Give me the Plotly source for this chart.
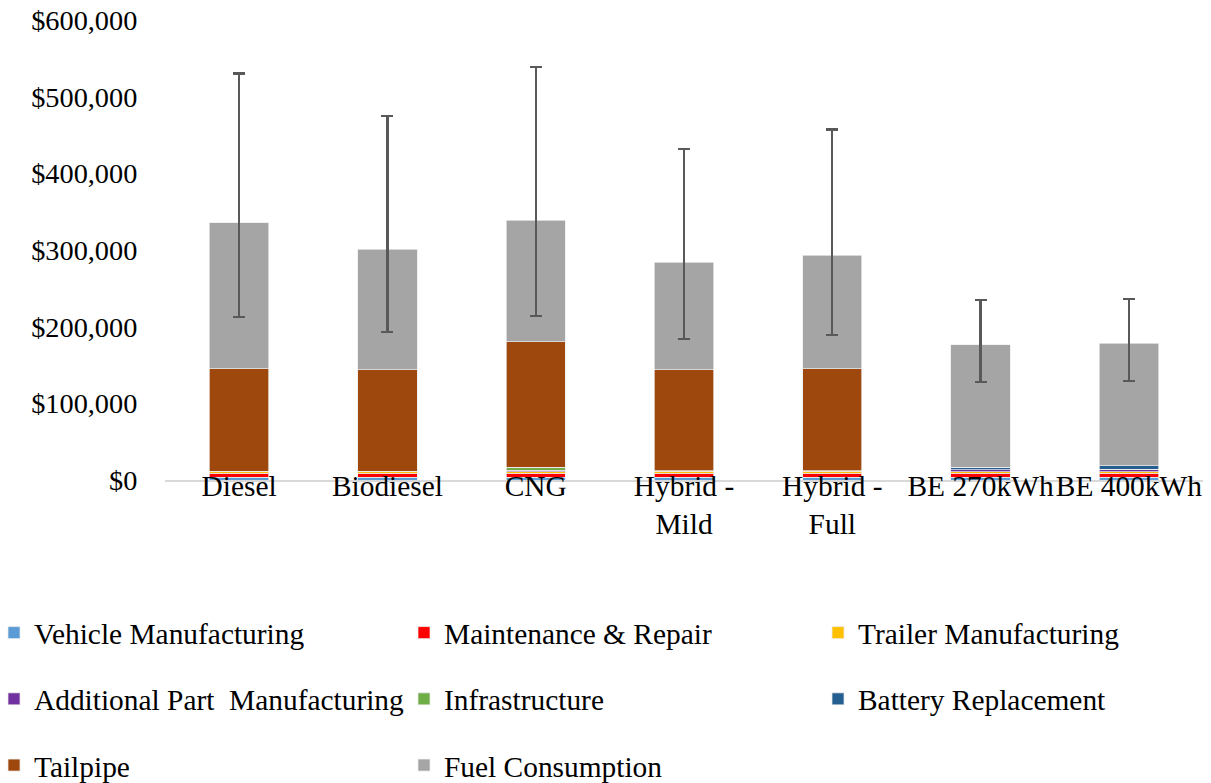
import plotly.graph_objects as go

categories = ["Diesel", "Biodiesel", "CNG", "Hybrid -<br>Mild", "Hybrid -<br>Full", "BE 270kWh", "BE 400kWh"]

vehicle_mfg = [3500, 3500, 3500, 3500, 3500, 3500, 3500]
maintenance = [5200, 5200, 5200, 5200, 5200, 5500, 5500]
trailer_mfg = [2600, 2600, 1800, 2600, 2600, 2000, 2000]
additional_part = [0, 0, 2500, 500, 500, 2500, 3000]
infrastructure = [0, 0, 3500, 0, 0, 0, 0]
battery_repl = [0, 0, 0, 0, 0, 3000, 4500]
tailpipe = [133500, 132600, 163900, 132100, 133000, 0, 0]
fuel = [190800, 157400, 158300, 140000, 148200, 159600, 159800]

totals = [335600, 301300, 338700, 283900, 293000, 176100, 178300]
err_low = [212200, 193000, 214300, 183900, 188700, 128200, 129500]
err_high = [530400, 474800, 538700, 431300, 457000, 234400, 236500]

y_ticks = [0, 100000, 200000, 300000, 400000, 500000, 600000]
y_tick_text = ["$0", "$100,000", "$200,000", "$300,000", "$400,000", "$500,000", "$600,000"]

series = [
    ("Vehicle Manufacturing", vehicle_mfg, "#5B9BD5", "legend"),
    ("Maintenance & Repair", maintenance, "#FF0000", "legend2"),
    ("Trailer Manufacturing", trailer_mfg, "#FFC000", "legend3"),
    ("Additional Part  Manufacturing", additional_part, "#7030A0", "legend"),
    ("Infrastructure", infrastructure, "#70AD47", "legend2"),
    ("Battery Replacement", battery_repl, "#255E91", "legend3"),
    ("Tailpipe", tailpipe, "#9E480E", "legend"),
    ("Fuel Consumption", fuel, "#A5A5A5", "legend2"),
]

err_plus = [h - t for h, t in zip(err_high, totals)]
err_minus = [t - l for t, l in zip(totals, err_low)]

FONT = "Liberation Serif, Times New Roman, serif"
FS = 29.4

fig = go.Figure()
for name, vals, color, leg in series:
    kw = {}
    if name == "Fuel Consumption":
        kw["error_y"] = dict(type="data", symmetric=False, array=err_plus, arrayminus=err_minus,
                             color="#595959", thickness=2.3, width=6)
    fig.add_trace(go.Bar(
        x=categories, y=vals, name=name, legend=leg, legendgroup=name,
        marker=dict(color=color, line=dict(color="rgba(235,235,235,0.9)", width=0.8)),
        **kw,
    ))

# plot area displayed at x 165..1203, y 20..480 (page body margin removed below)
PL, PW, PB, PH = 165, 1038, 480, 460
def px_x(X):
    return (X - PL) / PW
def px_y(Y):
    return (PB - Y) / PH

leg_common = dict(orientation="v", xref="paper", yref="paper", yanchor="top",
                  xanchor="left", traceorder="grouped", tracegroupgap=25,
                  font=dict(family=FONT, size=FS, color="black"),
                  bgcolor="rgba(0,0,0,0)", itemwidth=30)
y_leg = px_y(607)

fig.update_layout(
    width=1211, height=783,
    barmode="stack", bargap=0.6,
    margin=dict(l=PL, r=1211 - (PL + PW), t=20, b=783 - PB, autoexpand=False),
    paper_bgcolor="white", plot_bgcolor="white",
    font=dict(family=FONT, size=FS, color="black"),
    legend=dict(x=px_x(-6), y=y_leg, **leg_common),
    legend2=dict(x=px_x(404), y=y_leg, **leg_common),
    legend3=dict(x=px_x(818), y=y_leg, **leg_common),
    xaxis=dict(showgrid=False, showline=True, linecolor="#D9D9D9", linewidth=1.5,
               tickangle=0, automargin=False, ticklabelstandoff=-21,
               ticklabeloverflow="allow",
               tickfont=dict(family=FONT, size=FS, color="black")),
    yaxis=dict(range=[0, 600000], tickvals=y_ticks, ticktext=y_tick_text,
               showgrid=False, showline=False, zeroline=False, automargin=False,
               ticks="outside", ticklen=21, tickcolor="rgba(0,0,0,0)",
               ticklabeloverflow="allow",
               tickfont=dict(family=FONT, size=28.3, color="black")),
)

fig.write_html("out.html", config={"displayModeBar": False},
               post_script="document.body.style.margin='0px';document.body.style.overflow='hidden';")
